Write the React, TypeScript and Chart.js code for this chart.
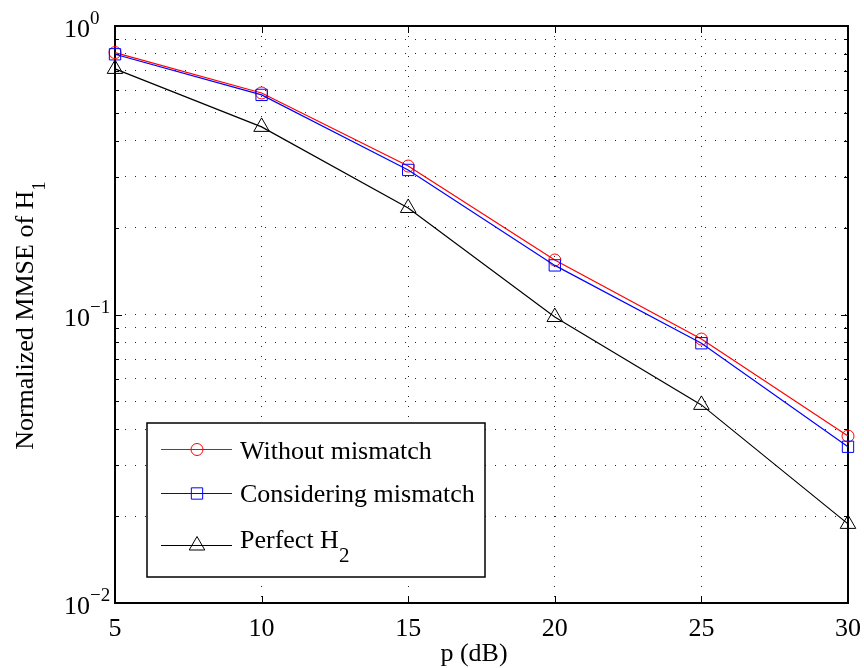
import React, { useEffect, useRef } from 'react';
import { Chart, registerables } from 'chart.js';

Chart.register(...registerables);

// ---------- data ----------
const xValues = [5, 10, 15, 20, 25, 30];
const withoutMismatch = [0.809, 0.586, 0.327, 0.1545, 0.0822, 0.0379];
const consideringMismatch = [0.798, 0.577, 0.317, 0.148, 0.0795, 0.0348];
const perfectH2 = [0.71, 0.447, 0.234, 0.098, 0.0486, 0.0188];

const xTickValues = [5, 10, 15, 20, 25, 30];
const xTickLabels = ['5', '10', '15', '20', '25', '30'];
const yDecadeValues = [0.01, 0.1, 1];
const yDecadeExponents = ['\u22122', '\u22121', '0'];
const yMinorMultipliers = [2, 3, 4, 5, 6, 7, 8, 9];

const legendLabels = ['Without mismatch', 'Considering mismatch', 'Perfect H'];
const legendSubscripts = ['', '', '2'];
const xTitle = 'p (dB)';
const yTitleMain = 'Normalized MMSE of H';
const yTitleSub = '1';

const COLORS = ['#ff0000', '#0000ff', '#000000'];
const STYLES = ['circle', 'rect', 'triangle'];
const RADII = [6, 8, 9];

const FONT = '"Liberation Serif", "Times New Roman", Times, serif';

const yGridValues: number[] = (() => {
  const out: number[] = [];
  for (let i = 0; i < yDecadeValues.length - 1; i++) {
    out.push(yDecadeValues[i]);
    for (const m of yMinorMultipliers) out.push(+(yDecadeValues[i] * m).toPrecision(6));
  }
  out.push(yDecadeValues[yDecadeValues.length - 1]);
  return out;
})();

function drawMarker(ctx: CanvasRenderingContext2D, style: string, x: number, y: number, r: number, color: string) {
  ctx.save();
  ctx.strokeStyle = color;
  ctx.lineWidth = 1;
  ctx.beginPath();
  if (style === 'circle') {
    ctx.arc(x, y, r, 0, Math.PI * 2);
  } else if (style === 'rect') {
    const s = Math.SQRT1_2 * r;
    ctx.rect(x - s, y - s, 2 * s, 2 * s);
  } else {
    let rad = 0;
    const t = (2 * Math.PI) / 3;
    ctx.moveTo(x + Math.sin(rad) * r, y - Math.cos(rad) * r);
    rad += t;
    ctx.lineTo(x + Math.sin(rad) * r, y - Math.cos(rad) * r);
    rad += t;
    ctx.lineTo(x + Math.sin(rad) * r, y - Math.cos(rad) * r);
    ctx.closePath();
  }
  ctx.stroke();
  ctx.restore();
}

const decorPlugin = {
  id: 'decor',
  beforeDatasetsDraw(chart: any) {
    const { ctx, chartArea: a, scales } = chart;
    const x = scales.x;
    const y = scales.y;
    ctx.save();
    ctx.strokeStyle = '#000';
    ctx.lineWidth = 1;
    const seg = (x1: number, y1: number, x2: number, y2: number) => {
      ctx.beginPath();
      ctx.moveTo(x1, y1);
      ctx.lineTo(x2, y2);
      ctx.stroke();
    };
    for (const v of xTickValues) {
      const px = Math.round(x.getPixelForValue(v)) + 0.5;
      seg(px, a.bottom, px, a.bottom - 7);
      seg(px, a.top, px, a.top + 7);
    }
    for (const v of yGridValues) {
      const py = Math.round(y.getPixelForValue(v)) + 0.5;
      const major = yDecadeValues.some((d) => Math.abs(d - v) < 1e-9);
      const len = major ? 7 : 4;
      seg(a.left, py, a.left + len, py);
      seg(a.right, py, a.right - len, py);
    }
    ctx.lineWidth = 2;
    ctx.strokeRect(a.left, a.top, a.right - a.left, a.bottom - a.top);
    ctx.restore();
  },
  afterDraw(chart: any) {
    const { ctx, chartArea: a, scales } = chart;
    const x = scales.x;
    const y = scales.y;
    ctx.save();
    ctx.fillStyle = '#000';

    // x tick labels
    ctx.font = `26px ${FONT}`;
    ctx.textAlign = 'center';
    ctx.textBaseline = 'alphabetic';
    xTickValues.forEach((v, i) => {
      ctx.fillText(xTickLabels[i], x.getPixelForValue(v), a.bottom + 33);
    });

    // y tick labels (10 with superscript)
    yDecadeValues.forEach((v, i) => {
      const py = y.getPixelForValue(v);
      ctx.font = `26px ${FONT}`;
      ctx.textAlign = 'right';
      ctx.fillText('10', 90, py + 11);
      ctx.font = `19px ${FONT}`;
      ctx.textAlign = 'left';
      ctx.fillText(yDecadeExponents[i], 90, py - 2);
    });

    // x title
    ctx.font = `26px ${FONT}`;
    ctx.textAlign = 'center';
    ctx.fillText(xTitle, 474, a.bottom + 58);

    // y title (rotated)
    ctx.save();
    ctx.translate(33, (a.top + a.bottom) / 2 + 1);
    ctx.rotate(-Math.PI / 2);
    ctx.font = `26px ${FONT}`;
    const w1 = ctx.measureText(yTitleMain).width;
    ctx.font = `19px ${FONT}`;
    const w2 = ctx.measureText(yTitleSub).width;
    const start = -(w1 + w2) / 2;
    ctx.textAlign = 'left';
    ctx.font = `26px ${FONT}`;
    ctx.fillText(yTitleMain, start, 0);
    ctx.font = `19px ${FONT}`;
    ctx.fillText(yTitleSub, start + w1, 12);
    ctx.restore();

    // legend
    const bx = 147, by = 423, bw = 338, bh = 154;
    ctx.fillStyle = '#fff';
    ctx.fillRect(bx, by, bw, bh);
    ctx.strokeStyle = '#000';
    ctx.lineWidth = 1.5;
    ctx.strokeRect(bx, by, bw, bh);
    const rowLine = [449, 493, 545];
    const rowBase = [459, 502, 548];
    legendLabels.forEach((label, i) => {
      ctx.strokeStyle = COLORS[i];
      ctx.lineWidth = 1;
      ctx.beginPath();
      ctx.moveTo(161, rowLine[i] + 0.5);
      ctx.lineTo(232, rowLine[i] + 0.5);
      ctx.stroke();
      drawMarker(ctx, STYLES[i], 197, rowLine[i] + 0.5, RADII[i], COLORS[i]);
      ctx.fillStyle = '#000';
      ctx.textAlign = 'left';
      ctx.font = `26px ${FONT}`;
      ctx.fillText(label, 240, rowBase[i]);
      if (legendSubscripts[i]) {
        const w = ctx.measureText(label).width;
        ctx.font = `21px ${FONT}`;
        ctx.fillText(legendSubscripts[i], 240 + w, rowBase[i] + 14);
      }
    });
    ctx.restore();
  },
};

export default function App() {
  const canvasRef = useRef<HTMLCanvasElement | null>(null);

  useEffect(() => {
    if (!canvasRef.current) return;
    const seriesValues = [withoutMismatch, consideringMismatch, perfectH2];
    const chart = new Chart(canvasRef.current, {
      type: 'line',
      data: {
        datasets: seriesValues.map((vals, i) => ({
          label: legendLabels[i] + legendSubscripts[i],
          data: xValues.map((xv, j) => ({ x: xv, y: vals[j] })),
          borderColor: COLORS[i],
          backgroundColor: 'rgba(0,0,0,0)',
          borderWidth: 1.2,
          pointStyle: STYLES[i] as any,
          pointRadius: RADII[i],
          pointBorderColor: COLORS[i],
          pointBackgroundColor: 'rgba(0,0,0,0)',
          pointBorderWidth: 1,
          tension: 0,
          fill: false,
          clip: false as any,
          order: 3 - i,
        })),
      },
      options: {
        responsive: false,
        animation: false,
        devicePixelRatio: 1,
        events: [],
        layout: { padding: { left: 115, top: 26, right: 16, bottom: 65 } },
        plugins: { legend: { display: false }, tooltip: { enabled: false }, title: { display: false } },
        scales: {
          x: {
            type: 'linear',
            min: 5,
            max: 30,
            afterBuildTicks: (scale: any) => {
              scale.ticks = xTickValues.map((v) => ({ value: v }));
            },
            ticks: { display: false },
            grid: { display: true, drawTicks: false, color: '#222', lineWidth: 1 },
            border: { display: false, dash: [1, 9] },
          },
          y: {
            type: 'logarithmic',
            min: 0.01,
            max: 1,
            afterBuildTicks: (scale: any) => {
              scale.ticks = yGridValues.map((v) => ({ value: v }));
            },
            ticks: { display: false },
            grid: { display: true, drawTicks: false, color: '#222', lineWidth: 1 },
            border: { display: false, dash: [1, 9] },
          },
        },
      },
      plugins: [decorPlugin],
    } as any);
    return () => chart.destroy();
  }, []);

  return (
    <div style={{ position: 'fixed', left: 0, top: 0, width: 864, height: 668, background: '#fff' }}>
      <canvas ref={canvasRef} width={864} height={668} style={{ width: 864, height: 668, display: 'block' }} />
    </div>
  );
}
